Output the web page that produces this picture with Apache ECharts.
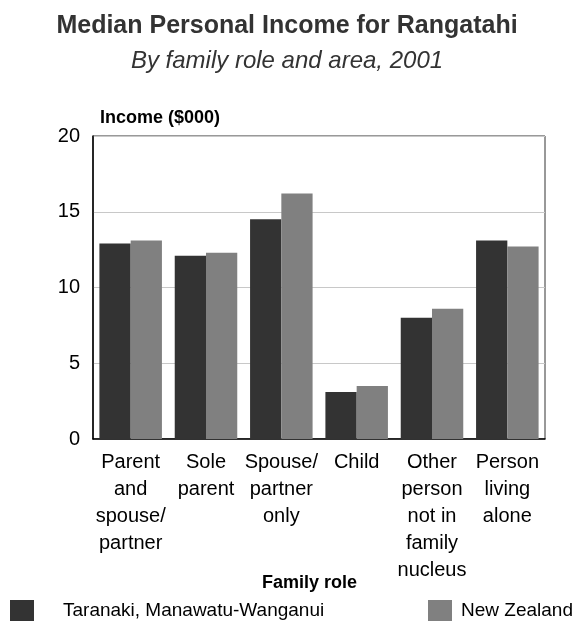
<!DOCTYPE html>
<html>
<head>
<meta charset="utf-8">
<script src="https://cdn.jsdelivr.net/npm/echarts@6/dist/echarts.min.js"></script>
<style>
  html, body { margin: 0; padding: 0; background: #fff; }
  #chart { width: 574px; height: 628px; }
</style>
</head>
<body>
<div id="chart"></div>
<script>
// Family roles along the x axis (line breaks follow the wrapped labels)
const categories = [
  'Parent\nand\nspouse/\npartner',
  'Sole\nparent',
  'Spouse/\npartner\nonly',
  'Child',
  'Other\nperson\nnot in\nfamily\nnucleus',
  'Person\nliving\nalone'
];

// Median personal income, $000
const taranakiValues = [12.9, 12.1, 14.5, 3.1, 8.0, 13.1];
const nzValues = [13.1, 12.3, 16.2, 3.5, 8.6, 12.7];

const seriesNames = ['Taranaki, Manawatu-Wanganui', 'New Zealand'];
const yTicks = { min: 0, max: 20, interval: 5 };

const FONT = '"Liberation Sans", Arial, sans-serif';

const chart = echarts.init(document.getElementById('chart'), null, { renderer: 'canvas' });

// one legend block per series, each placed on its own
function legendFor(name, left, textGap) {
  return {
    data: [name],
    left: left, top: 595,
    itemWidth: 24, itemHeight: 21,
    icon: 'rect',
    textStyle: { fontFamily: FONT, fontSize: 19, color: '#000', padding: [0, 0, 0, textGap] }
  };
}

chart.setOption({
  animation: false,
  textStyle: { fontFamily: FONT },
  graphic: [
    {
      type: 'text', left: 'center', top: 14,
      style: {
        text: 'Median Personal Income for Rangatahi',
        font: 'bold 25px ' + FONT, fill: '#333'
      }
    },
    {
      type: 'text', left: 'center', top: 49,
      style: {
        text: 'By family role and area, 2001',
        font: 'italic 24px ' + FONT, fill: '#333'
      }
    },
    {
      type: 'text', left: 100, top: 109,
      style: {
        text: 'Income ($000)',
        font: 'bold 18px ' + FONT, fill: '#000'
      }
    },
    {
      type: 'text', left: 262, top: 574,
      style: {
        text: 'Family role',
        font: 'bold 18px ' + FONT, fill: '#000'
      }
    }
  ],
  legend: [
    legendFor(seriesNames[0], 5, 24),
    legendFor(seriesNames[1], 423, 4)
  ],
  grid: {
    left: 93, right: 29, top: 136, bottom: 189,
    show: true, borderColor: '#333', borderWidth: 1, backgroundColor: 'transparent'
  },
  xAxis: {
    type: 'category',
    data: categories,
    axisLine: { lineStyle: { color: '#000', width: 1.5 } },
    axisTick: { show: false },
    axisLabel: {
      interval: 0, fontFamily: FONT, fontSize: 20, lineHeight: 27,
      color: '#000', margin: 10, align: 'center'
    }
  },
  yAxis: {
    type: 'value',
    min: yTicks.min, max: yTicks.max, interval: yTicks.interval,
    axisLine: { show: true, lineStyle: { color: '#000', width: 1.5 } },
    axisTick: { show: false },
    axisLabel: { fontFamily: FONT, fontSize: 20, color: '#000', margin: 13 },
    splitLine: { lineStyle: { color: '#c8c8c8', width: 1 } }
  },
  series: [
    {
      name: seriesNames[0], type: 'bar', data: taranakiValues,
      itemStyle: { color: '#333333' },
      barGap: '0%', barCategoryGap: '17%'
    },
    {
      name: seriesNames[1], type: 'bar', data: nzValues,
      itemStyle: { color: '#808080' },
      barGap: '0%', barCategoryGap: '17%'
    }
  ]
});
</script>
</body>
</html>
